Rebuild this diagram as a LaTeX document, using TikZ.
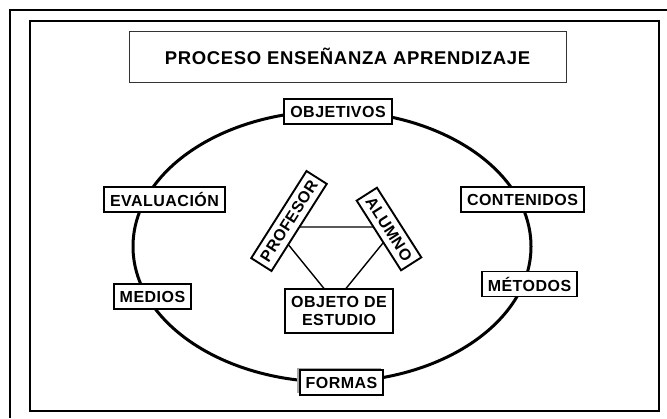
\documentclass[tikz,border=0pt]{standalone}
\usepackage{fontspec}
\setmainfont{Liberation Sans}
\newfontfamily\lblfont[LetterSpace=3]{Liberation Sans}
\newfontfamily\ttlfont[LetterSpace=3.5]{Liberation Sans}
\usetikzlibrary{shadows}
\tikzset{
  etiqueta/.style={draw=black,line width=1.9pt,fill=white,inner xsep=6pt,inner ysep=2pt,minimum height=25pt,font=\lblfont\bfseries\fontsize{16}{17.5}\selectfont},
  girada/.style={etiqueta,minimum height=24pt,inner xsep=5pt},
  marco/.style={line width=1.6pt,draw=black},
}

\begin{document}
\begin{tikzpicture}[x=1pt,y=-1pt]
      \useasboundingbox (0,0) rectangle (667,418);
      \draw[marco,line width=2pt] (10,418) -- (10,10) -- (667,10);
      \draw[marco] (30,21) rectangle (659,411);
      \node[draw=black!80,line width=1pt,minimum width=437pt,minimum height=51pt,font=\ttlfont\bfseries\fontsize{18.5}{20}\selectfont] (titulo) at (347.5,56.5) {PROCESO ENSEÑANZA APRENDIZAJE};
      \draw[line width=3pt] (332,246.5) ellipse [x radius=199, y radius=135.5];
      \coordinate (v1) at (274,227);
      \coordinate (v2) at (396,227);
      \coordinate (v3) at (335,302);
      \draw[line width=1.4pt] (v1) -- (v2) -- (v3) -- cycle;
      \node[etiqueta] (objetivos) at (338,111.5) {OBJETIVOS};
      \node[etiqueta] (evaluacion) at (164.5,199.5) {EVALUACIÓN};
      \node[etiqueta] (contenidos) at (522.5,199.5) {CONTENIDOS};
      \node[etiqueta] (medios) at (152.5,296.5) {MEDIOS};
      \node[etiqueta] (metodos) at (529.5,284) {MÉTODOS};
      \node[etiqueta,drop shadow={shadow xshift=-2.5pt,shadow yshift=2.5pt,fill=gray!70,opacity=1}] (formas) at (341.5,382.5) {FORMAS};
      \node[etiqueta,align=center,minimum height=44pt] (objeto) at (339,311) {OBJETO DE\\ESTUDIO};
      \node[girada,rotate=57.6] (profesor) at (289,221) {PROFESOR};
      \node[girada,rotate=-57.5] (alumno) at (389,229) {ALUMNO};
    \end{tikzpicture}
\end{document}
